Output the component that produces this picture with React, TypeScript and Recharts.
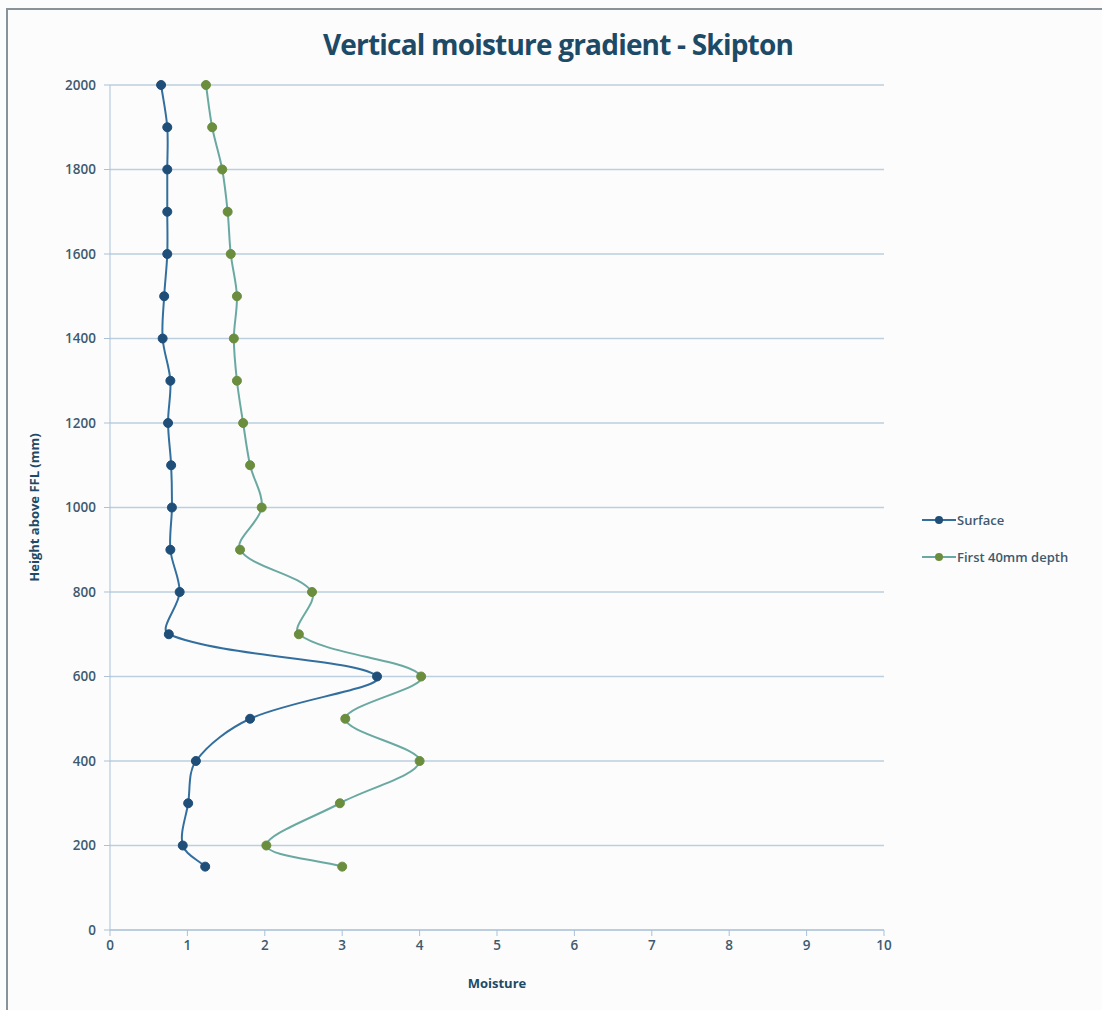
import React from "react";
import { CartesianGrid, Line, LineChart, XAxis, YAxis, Label } from "recharts";

const heights = [2000, 1900, 1800, 1700, 1600, 1500, 1400, 1300, 1200, 1100, 1000, 900, 800, 700, 600, 500, 400, 300, 200, 150];
const surface = [0.66, 0.74, 0.74, 0.74, 0.74, 0.7, 0.68, 0.78, 0.75, 0.79, 0.8, 0.78, 0.9, 0.76, 3.45, 1.81, 1.11, 1.01, 0.94, 1.23];
const firstDepth = [1.24, 1.32, 1.45, 1.52, 1.56, 1.64, 1.6, 1.64, 1.72, 1.81, 1.96, 1.68, 2.61, 2.44, 4.02, 3.04, 4.0, 2.97, 2.02, 3.0];
const xTicks = [0, 1, 2, 3, 4, 5, 6, 7, 8, 9, 10];
const yTicks = [0, 200, 400, 600, 800, 1000, 1200, 1400, 1600, 1800, 2000];

const data = heights.map((h, i) => ({ height: h, surface: surface[i], depth: firstDepth[i] }));

const FONT = "'Open Sans', 'Noto Sans', sans-serif";
const TICK = { fill: "#3e5a6e", fontSize: 13.5, fontFamily: FONT, fontWeight: 600 };

// excel-like smoothing: bezier, tangents scaled by chord lengths
function excelSmooth(context: any) {
  let pts: [number, number][] = [];
  const dist = (a: [number, number], b: [number, number]) => Math.hypot(b[0] - a[0], b[1] - a[1]) || 1e-6;
  return {
    areaStart() {},
    areaEnd() {},
    lineStart() {
      pts = [];
    },
    point(x: number, y: number) {
      pts.push([x, y]);
    },
    lineEnd() {
      if (!pts.length) return;
      context.moveTo(pts[0][0], pts[0][1]);
      for (let i = 0; i < pts.length - 1; i++) {
        const p0 = pts[Math.max(0, i - 1)];
        const p1 = pts[i];
        const p2 = pts[i + 1];
        const p3 = pts[Math.min(pts.length - 1, i + 2)];
        const seg = dist(p1, p2);
        const f1 = seg / (3 * (dist(p0, p1) + seg));
        const f2 = seg / (3 * (seg + dist(p2, p3)));
        const c1x = p1[0] + (p2[0] - p0[0]) * f1;
        const c1y = p1[1] + (p2[1] - p0[1]) * f1;
        const c2x = p2[0] - (p3[0] - p1[0]) * f2;
        const c2y = p2[1] - (p3[1] - p1[1]) * f2;
        context.bezierCurveTo(c1x, c1y, c2x, c2y, p2[0], p2[1]);
      }
    },
  };
}

const legendItems = [
  { name: "Surface", line: "#336f9e", dot: "#1f4e79" },
  { name: "First 40mm depth", line: "#6aa9a2", dot: "#6b8e3e" },
];

function LegendBox() {
  return (
    <div style={{ position: "absolute", left: 922, top: 501, fontFamily: FONT, fontSize: 13, color: "#3e5a6e", fontWeight: 600 }}>
      {legendItems.map((it) => (
        <div key={it.name} style={{ display: "flex", alignItems: "center", height: 37 }}>
          <svg width={34} height={10}>
            <line x1={0} y1={5} x2={34} y2={5} stroke={it.line} strokeWidth={2} />
            <circle cx={17} cy={5} r={4} fill={it.dot} />
          </svg>
          <span style={{ marginLeft: 1 }}>{it.name}</span>
        </div>
      ))}
    </div>
  );
}

export default function App() {
  return (
    <div style={{ position: "fixed", left: 0, top: 0, width: 1102, height: 1010, background: "#fcfcfc" }}>
      <div style={{ position: "absolute", left: 6, top: 8, right: 0, bottom: 0, borderTop: "2px solid #8a9299", borderLeft: "2px solid #8a9299" }} />
      <div
        style={{
          position: "absolute",
          top: 25,
          left: 0,
          width: 1116,
          textAlign: "center",
          fontFamily: FONT,
          fontWeight: 700,
          fontSize: 28,
          letterSpacing: -0.8,
          color: "#1d4a66",
        }}
      >
        Vertical moisture gradient - Skipton
      </div>
      <LineChart
        width={1102}
        height={1010}
        data={data}
        layout="vertical"
        margin={{ top: 85, right: 218, bottom: 50, left: 50 }}
        style={{ position: "absolute", left: 0, top: 0 }}
      >
        <CartesianGrid vertical={false} stroke="#bccfdf" strokeWidth={1.5} />
        <XAxis
          type="number"
          dataKey="surface"
          domain={[0, 10]}
          ticks={xTicks}
          height={30}
          tick={TICK}
          stroke="#a9c2d8"
          tickSize={6}
          tickMargin={4}
          allowDataOverflow
        >
          <Label value="Moisture" position="insideBottom" offset={-28} style={{ ...TICK, fill: "#1d4a66", fontWeight: 700, fontSize: 13 }} />
        </XAxis>
        <YAxis
          type="number"
          dataKey="height"
          domain={[0, 2000]}
          ticks={yTicks}
          width={60}
          tick={TICK}
          stroke="#a9c2d8"
          tickSize={6}
          tickMargin={8}
          reversed
        >
          <Label
            value="Height above FFL (mm)"
            angle={-90}
            position="insideLeft"
            offset={-16}
            style={{ ...TICK, fill: "#1d4a66", fontWeight: 700, fontSize: 13, textAnchor: "middle" }}
          />
        </YAxis>
        <Line
          dataKey="surface"
          name="Surface"
          type={excelSmooth as any}
          stroke="#336f9e"
          strokeWidth={2}
          dot={{ r: 4.5, fill: "#1f4e79", stroke: "#1f4e79", strokeWidth: 1 }}
          isAnimationActive={false}
        />
        <Line
          dataKey="depth"
          name="First 40mm depth"
          type={excelSmooth as any}
          stroke="#6aa9a2"
          strokeWidth={2}
          dot={{ r: 4.5, fill: "#6b8e3e", stroke: "#6b8e3e", strokeWidth: 1 }}
          isAnimationActive={false}
        />
      </LineChart>
      <LegendBox />
    </div>
  );
}
